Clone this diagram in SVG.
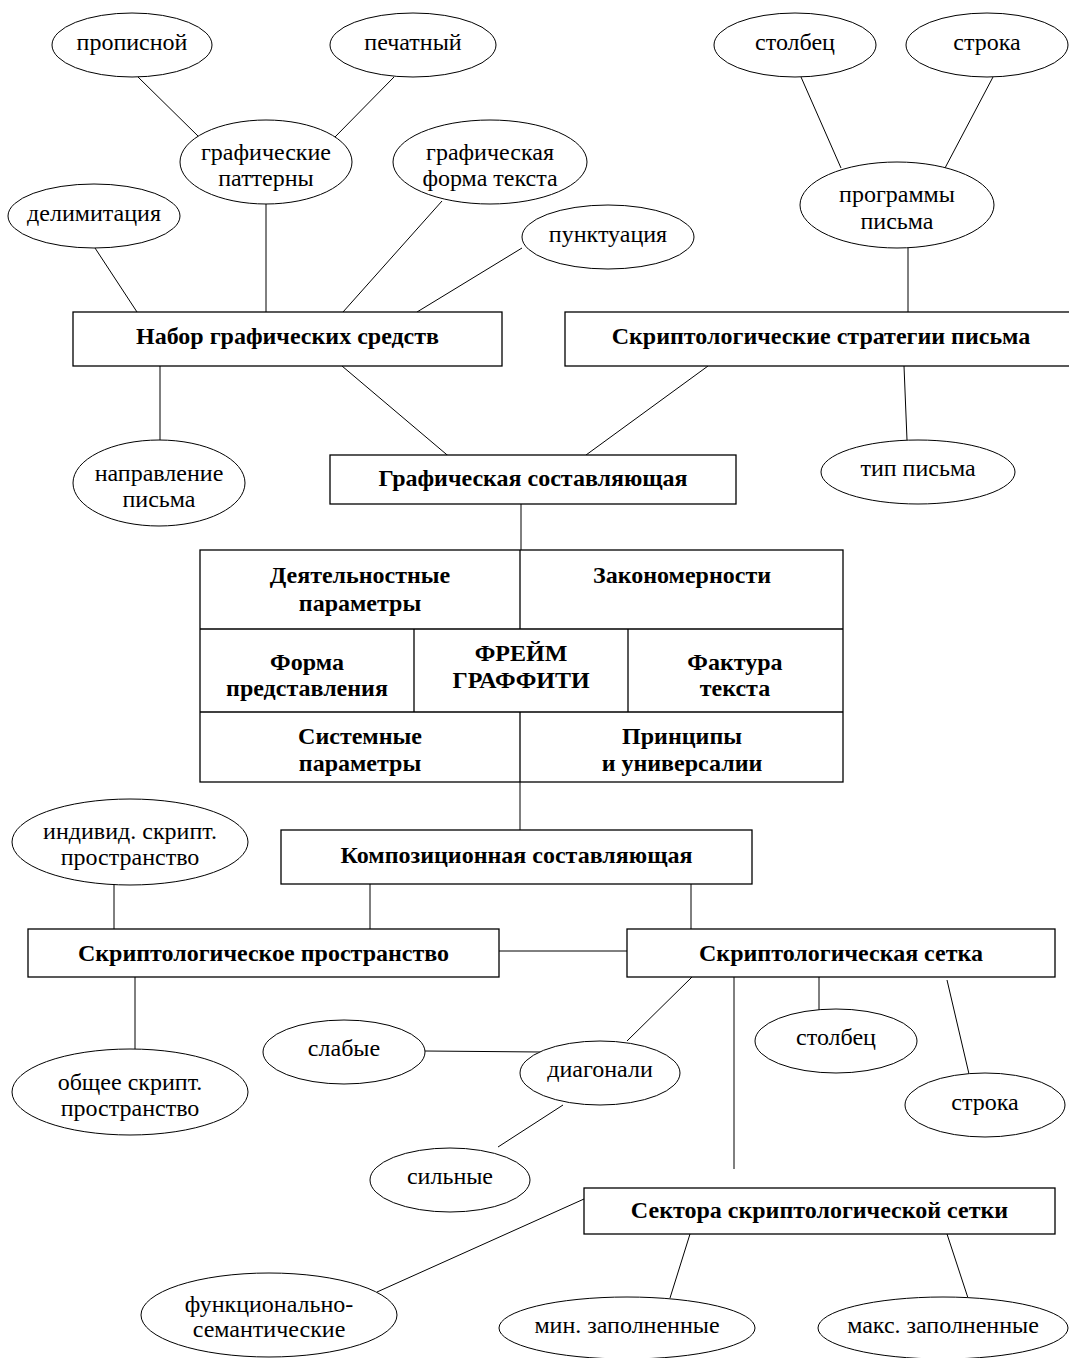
<svg xmlns="http://www.w3.org/2000/svg" width="1069" height="1358" viewBox="0 0 1069 1358">
<style>
  .bg { fill: #ffffff; }
  .el { fill: #ffffff; stroke: #000000; stroke-width: 1; }
  .bx { fill: #ffffff; stroke: #000000; stroke-width: 1.3; }
  .ln { stroke: #000000; stroke-width: 1; fill: none; }
  .fl { stroke: #000000; stroke-width: 1.3; fill: none; }
  .t { font-family: "Liberation Serif", "Times New Roman", serif; font-size: 24px; text-anchor: middle; fill: #000000; }
  .b { font-family: "Liberation Serif", "Times New Roman", serif; font-size: 24px; font-weight: bold; text-anchor: middle; fill: #000000; }
</style>
<rect class="bg" x="0" y="0" width="1069" height="1358"/>

<g id="connectors">
  <line class="ln" x1="138" y1="77" x2="199" y2="137"/>
  <line class="ln" x1="394" y1="77" x2="335" y2="137"/>
  <line class="ln" x1="95" y1="248" x2="137" y2="312"/>
  <line class="ln" x1="266" y1="204" x2="266" y2="312"/>
  <line class="ln" x1="442" y1="201" x2="343" y2="312"/>
  <line class="ln" x1="522" y1="248" x2="417" y2="312"/>
  <line class="ln" x1="801" y1="77" x2="841" y2="168"/>
  <line class="ln" x1="993" y1="77" x2="945" y2="168"/>
  <line class="ln" x1="908" y1="248" x2="908" y2="312"/>
  <line class="ln" x1="160" y1="366" x2="160" y2="440"/>
  <line class="ln" x1="342" y1="366" x2="459" y2="465"/>
  <line class="ln" x1="708" y1="366" x2="586" y2="455"/>
  <line class="ln" x1="904" y1="366" x2="907" y2="440"/>
  <line class="ln" x1="521" y1="504" x2="521" y2="550"/>
  <line class="ln" x1="520" y1="782" x2="520" y2="830"/>
  <line class="ln" x1="114" y1="884" x2="114" y2="929"/>
  <line class="ln" x1="370" y1="884" x2="370" y2="929"/>
  <line class="ln" x1="691" y1="884" x2="691" y2="929"/>
  <line class="ln" x1="499" y1="951" x2="627" y2="951"/>
  <line class="ln" x1="135" y1="977" x2="135" y2="1049"/>
  <line class="ln" x1="692" y1="977" x2="627" y2="1041"/>
  <line class="ln" x1="734" y1="977" x2="734" y2="1169"/>
  <line class="ln" x1="819" y1="977" x2="819" y2="1010"/>
  <line class="ln" x1="947" y1="980" x2="969" y2="1074"/>
  <line class="ln" x1="425" y1="1051" x2="541" y2="1052"/>
  <line class="ln" x1="563" y1="1105" x2="498" y2="1147"/>
  <line class="ln" x1="584" y1="1199" x2="377" y2="1292"/>
  <line class="ln" x1="690" y1="1234" x2="670" y2="1298"/>
  <line class="ln" x1="947" y1="1234" x2="968" y2="1298"/>
</g>

<g id="n-propisnoy"><ellipse class="el" cx="132" cy="45" rx="80" ry="32"/><text class="t" x="132" y="50">прописной</text></g>
<g id="n-pechatny"><ellipse class="el" cx="413" cy="45" rx="83" ry="32"/><text class="t" x="413" y="50">печатный</text></g>
<g id="n-graf-patterny"><ellipse class="el" cx="266" cy="162" rx="86" ry="42"/><text class="t" x="266" y="160">графические</text><text class="t" x="266" y="186">паттерны</text></g>
<g id="n-graf-forma"><ellipse class="el" cx="490" cy="162" rx="97" ry="42"/><text class="t" x="490" y="160">графическая</text><text class="t" x="490" y="186">форма текста</text></g>
<g id="n-delimitatsiya"><ellipse class="el" cx="94" cy="216" rx="86" ry="32"/><text class="t" x="94" y="221">делимитация</text></g>
<g id="n-punktuatsiya"><ellipse class="el" cx="608" cy="237" rx="86" ry="32"/><text class="t" x="608" y="242">пунктуация</text></g>
<g id="n-stolbets-top"><ellipse class="el" cx="795" cy="45" rx="81" ry="32"/><text class="t" x="795" y="50">столбец</text></g>
<g id="n-stroka-top"><ellipse class="el" cx="987" cy="45" rx="81" ry="32"/><text class="t" x="987" y="50">строка</text></g>
<g id="n-programmy"><ellipse class="el" cx="897" cy="205" rx="97" ry="43"/><text class="t" x="897" y="202">программы</text><text class="t" x="897" y="229">письма</text></g>

<g id="n-nabor"><rect class="bx" x="73" y="312" width="429" height="54"/><text class="b" x="287.5" y="344">Набор графических средств</text></g>
<g id="n-strategii"><rect class="bx" x="565" y="312" width="512" height="54"/><text class="b" x="821" y="344">Скриптологические стратегии письма</text></g>

<g id="n-napravlenie"><ellipse class="el" cx="159" cy="483" rx="86" ry="43"/><text class="t" x="159" y="481">направление</text><text class="t" x="159" y="507">письма</text></g>
<g id="n-tip"><ellipse class="el" cx="918" cy="472" rx="97" ry="32"/><text class="t" x="918" y="476">тип письма</text></g>

<g id="n-graficheskaya"><rect class="bx" x="330" y="455" width="406" height="49"/><text class="b" x="533" y="486">Графическая составляющая</text></g>

<g id="n-frame">
  <rect class="fl" x="200" y="550" width="643" height="232"/>
  <line class="fl" x1="200" y1="629" x2="843" y2="629"/>
  <line class="fl" x1="200" y1="712" x2="843" y2="712"/>
  <line class="fl" x1="520" y1="550" x2="520" y2="629"/>
  <line class="fl" x1="414" y1="629" x2="414" y2="712"/>
  <line class="fl" x1="628" y1="629" x2="628" y2="712"/>
  <line class="fl" x1="520" y1="712" x2="520" y2="782"/>
  <text class="b" x="360" y="583">Деятельностные</text>
  <text class="b" x="360" y="611">параметры</text>
  <text class="b" x="682" y="583">Закономерности</text>
  <text class="b" x="307" y="670">Форма</text>
  <text class="b" x="307" y="696">представления</text>
  <text class="b" x="521" y="661">ФРЕЙМ</text>
  <text class="b" x="521" y="688">ГРАФФИТИ</text>
  <text class="b" x="735" y="670">Фактура</text>
  <text class="b" x="735" y="696">текста</text>
  <text class="b" x="360" y="744">Системные</text>
  <text class="b" x="360" y="771">параметры</text>
  <text class="b" x="682" y="744">Принципы</text>
  <text class="b" x="682" y="771">и универсалии</text>
</g>

<g id="n-kompozitsionnaya"><rect class="bx" x="281" y="830" width="471" height="54"/><text class="b" x="516.5" y="863">Композиционная составляющая</text></g>
<g id="n-individ"><ellipse class="el" cx="130" cy="842" rx="118" ry="43"/><text class="t" x="130" y="839">индивид. скрипт.</text><text class="t" x="130" y="865">пространство</text></g>
<g id="n-prostranstvo"><rect class="bx" x="28" y="929" width="471" height="48"/><text class="b" x="263.5" y="961">Скриптологическое пространство</text></g>
<g id="n-setka"><rect class="bx" x="627" y="929" width="428" height="48"/><text class="b" x="841" y="961">Скриптологическая сетка</text></g>
<g id="n-obshchee"><ellipse class="el" cx="130" cy="1092" rx="118" ry="43"/><text class="t" x="130" y="1090">общее скрипт.</text><text class="t" x="130" y="1116">пространство</text></g>
<g id="n-slabye"><ellipse class="el" cx="344" cy="1052" rx="81" ry="32"/><text class="t" x="344" y="1056">слабые</text></g>
<g id="n-diagonali"><ellipse class="el" cx="600" cy="1073" rx="80" ry="32"/><text class="t" x="600" y="1077">диагонали</text></g>
<g id="n-stolbets-low"><ellipse class="el" cx="836" cy="1041" rx="81" ry="32"/><text class="t" x="836" y="1045">столбец</text></g>
<g id="n-stroka-low"><ellipse class="el" cx="985" cy="1105" rx="80" ry="32"/><text class="t" x="985" y="1110">строка</text></g>
<g id="n-silnye"><ellipse class="el" cx="450" cy="1180" rx="80" ry="32"/><text class="t" x="450" y="1184">сильные</text></g>
<g id="n-sektora"><rect class="bx" x="584" y="1188" width="471" height="46"/><text class="b" x="819.5" y="1218">Сектора скриптологической сетки</text></g>
<g id="n-funktsionalno"><ellipse class="el" cx="269" cy="1315" rx="128" ry="42"/><text class="t" x="269" y="1312">функционально-</text><text class="t" x="269" y="1337">семантические</text></g>
<g id="n-min"><ellipse class="el" cx="627" cy="1328" rx="128" ry="31"/><text class="t" x="627" y="1333">мин. заполненные</text></g>
<g id="n-maks"><ellipse class="el" cx="943" cy="1328" rx="125" ry="31"/><text class="t" x="943" y="1333">макс. заполненные</text></g>
</svg>
